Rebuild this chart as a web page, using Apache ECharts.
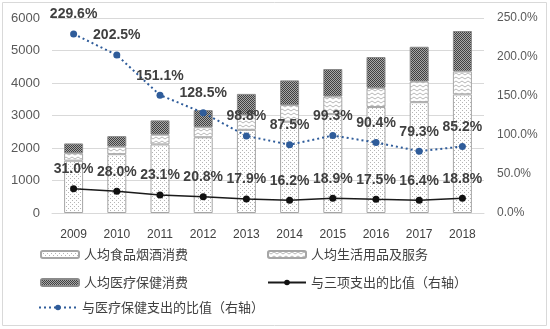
<!DOCTYPE html>
<html><head><meta charset="utf-8">
<script src="https://cdn.jsdelivr.net/npm/echarts@6/dist/echarts.min.js"></script>
<style>html,body{margin:0;padding:0;background:#fff}#c{width:550px;height:329px}</style>
</head><body><div id="c"></div>
<script>
const years = ['2009','2010','2011','2012','2013','2014','2015','2016','2017','2018'];
const foodValues = [1610, 1810, 2110, 2330, 2560, 2810, 3040, 3260, 3410, 3650];
const lifeValues = [230, 230, 300, 310, 450, 510, 545, 590, 635, 705];
const medicalValues = [300, 325, 440, 525, 655, 760, 845, 950, 1070, 1245];
const ratioThree = [31.0, 28.0, 23.1, 20.8, 17.9, 16.2, 18.9, 17.5, 16.4, 18.8];
const ratioMedical = [229.6, 202.5, 151.1, 128.5, 98.8, 87.5, 99.3, 90.4, 79.3, 85.2];
const leftTicks = {min: 0, max: 6000, interval: 1000};
const rightTicks = {min: 0, max: 250, interval: 50};
const names = ['人均食品烟酒消费','人均生活用品及服务','人均医疗保健消费','与三项支出的比值（右轴）','与医疗保健支出的比值（右轴）'];

function pattern(w, h, draw) {
  const c = document.createElement('canvas');
  c.width = w; c.height = h;
  const ctx = c.getContext('2d');
  draw(ctx);
  return {image: c, repeat: 'repeat'};
}
const foodPat = pattern(4, 4, ctx => {
  ctx.fillStyle = '#ffffff'; ctx.fillRect(0,0,4,4);
  ctx.fillStyle = '#b5b5b5'; ctx.fillRect(0,0,1,1); ctx.fillRect(2,2,1,1);
});
const lifePat = pattern(6, 4, ctx => {
  ctx.fillStyle = '#ffffff'; ctx.fillRect(0,0,6,4);
  ctx.strokeStyle = '#b8b8b8'; ctx.lineWidth = 1;
  ctx.beginPath(); ctx.moveTo(0,1); ctx.lineTo(3,3); ctx.lineTo(6,1); ctx.stroke();
});
const medPat = pattern(2, 2, ctx => {
  ctx.fillStyle = '#a8a8a8'; ctx.fillRect(0,0,2,2);
  ctx.fillStyle = '#404040'; ctx.fillRect(0,0,1,1); ctx.fillRect(1,1,1,1);
});

const chart = echarts.init(document.getElementById('c'));
const labelBase = {show: true, position: 'top', distance: 9, fontSize: 14, fontWeight: 'bold',
  color: '#404040', fontFamily: 'Liberation Sans, Arial', formatter: p => p.value.toFixed(1) + '%'};
const legendText = {fontSize: 13, color: '#404040', fontFamily: 'Noto Sans CJK SC'};
function lg(name, left, top) {
  return {data: [name], left: left, top: top, padding: 0, itemWidth: 38, itemHeight: 7,
    textStyle: legendText};
}
chart.setOption({
  animation: false,
  graphic: [{type: 'rect', shape: {x: 2.5, y: 2.5, width: 544, height: 323},
    style: {fill: 'none', stroke: '#d9d9d9', lineWidth: 1}, silent: true}],
  grid: {left: 52, right: 66, top: 18, bottom: 116},
  legend: [lg(names[0], 40, 248), lg(names[1], 267, 248), lg(names[2], 40, 276),
    lg(names[3], 267, 276), lg(names[4], 38, 301)],
  xAxis: {type: 'category', data: years,
    axisLine: {lineStyle: {color: '#d9d9d9'}}, axisTick: {show: false},
    axisLabel: {margin: 16, fontSize: 12, color: '#404040', fontFamily: 'Liberation Sans, Arial'}},
  yAxis: [
    {type: 'value', min: leftTicks.min, max: leftTicks.max, interval: leftTicks.interval,
      axisLabel: {margin: 12, fontSize: 13, color: '#595959', fontFamily: 'Liberation Sans, Arial',
        formatter: v => String(v)},
      splitLine: {lineStyle: {color: '#d9d9d9'}}},
    {type: 'value', min: rightTicks.min, max: rightTicks.max, interval: rightTicks.interval,
      axisLabel: {margin: 13, fontSize: 12, color: '#595959', fontFamily: 'Liberation Sans, Arial',
        formatter: v => v.toFixed(1) + '%'},
      splitLine: {show: false}}
  ],
  series: [
    {name: names[0], type: 'bar', stack: 's', barWidth: 19, data: foodValues,
      itemStyle: {color: foodPat, borderColor: '#a6a6a6', borderWidth: 1}},
    {name: names[1], type: 'bar', stack: 's', barWidth: 19, data: lifeValues,
      itemStyle: {color: lifePat, borderColor: '#a6a6a6', borderWidth: 1}},
    {name: names[2], type: 'bar', stack: 's', barWidth: 19, data: medicalValues,
      itemStyle: {color: medPat, borderColor: '#8a8a8a', borderWidth: 1}},
    {name: names[3], type: 'line', yAxisIndex: 1, data: ratioThree, symbol: 'circle', symbolSize: 7,
      lineStyle: {color: '#1a1a1a', width: 1.5}, itemStyle: {color: '#111111'}, label: labelBase, z: 5},
    {name: names[4], type: 'line', yAxisIndex: 1, data: ratioMedical, symbol: 'circle', symbolSize: 7,
      lineStyle: {color: '#2f5c9a', width: 2, type: [2, 3]}, itemStyle: {color: '#2f5c9a'},
      label: labelBase, z: 5}
  ]
});
</script></body></html>
